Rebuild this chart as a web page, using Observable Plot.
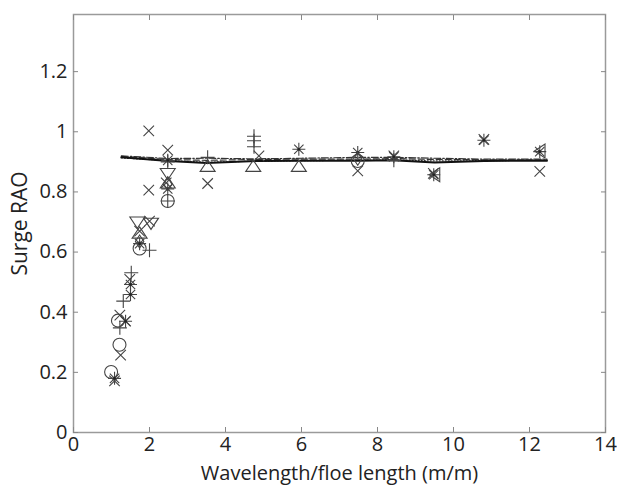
<!DOCTYPE html>
<html><head><meta charset="utf-8">
<script src="https://cdn.jsdelivr.net/npm/d3@7"></script>
<script src="https://cdn.jsdelivr.net/npm/@observablehq/plot@0.6"></script>
<style>body{margin:0;background:#fff} svg{display:block}</style>
</head><body><div id="chart"></div>
<script>
// ---- data ----
const xTicks = [0, 2, 4, 6, 8, 10, 12, 14];
const yTicks = [0, 0.2, 0.4, 0.6, 0.8, 1, 1.2];

const lineX   = [1.26, 2.5, 3.5, 4.8, 6, 7.5, 8.4, 9.5, 10.8, 12.46];
const solidY  = [0.915, 0.903, 0.896, 0.903, 0.904, 0.904, 0.905, 0.898, 0.903, 0.904];
const dashedY = [0.918, 0.908, 0.905, 0.908, 0.909, 0.909, 0.911, 0.908, 0.907, 0.907];
const dashDotY= [0.920, 0.911, 0.912, 0.910, 0.912, 0.915, 0.915, 0.912, 0.909, 0.909];
const dottedY = [0.913, 0.904, 0.899, 0.902, 0.904, 0.905, 0.907, 0.903, 0.904, 0.905];

const circleX = [0.99, 1.21, 1.17, 1.74, 2.48, 7.48];
const circleY = [0.201, 0.292, 0.372, 0.612, 0.77, 0.903];
const timesX  = [1.08, 1.24, 1.22, 1.37, 1.48, 1.74, 2.0, 1.98, 1.98, 2.48, 2.44, 3.53, 4.88, 7.48, 8.43, 9.47, 10.8, 12.27];
const timesY  = [0.172, 0.257, 0.39, 0.37, 0.509, 0.67, 0.703, 0.806, 1.003, 0.939, 0.83, 0.828, 0.92, 0.87, 0.92, 0.862, 0.975, 0.868];
const plusX   = [1.22, 1.31, 1.52, 2.0, 2.48, 2.48, 3.53, 4.75, 4.75, 4.75, 8.43];
const plusY   = [0.348, 0.437, 0.531, 0.606, 0.77, 0.9, 0.915, 0.985, 0.97, 0.95, 0.905];
const starX   = [1.08, 1.37, 1.5, 1.5, 1.74, 2.48, 2.48, 5.93, 7.48, 8.43, 9.48, 10.8, 12.27];
const starY   = [0.18, 0.37, 0.492, 0.459, 0.628, 0.81, 0.905, 0.942, 0.931, 0.917, 0.857, 0.972, 0.934];
const triUpX  = [1.74, 2.48, 3.53, 4.73, 5.93];
const triUpY  = [0.665, 0.832, 0.887, 0.887, 0.887];
const triDnX  = [1.68, 2.04, 2.48];
const triDnY  = [0.698, 0.694, 0.859];
const triLfX  = [9.5, 12.27];
const triLfY  = [0.857, 0.936];
const diamX   = [1.74, 2.48, 7.48];
const diamY   = [0.635, 0.826, 0.91];

// ---- helpers ----
const pts = (xs, ys) => xs.map((x, i) => ({x, y: ys[i]}));
const rad = s => Math.sqrt(s / Math.PI);
const symTimes = {draw(c, s){const a = rad(s)*0.75; c.moveTo(-a,-a); c.lineTo(a,a); c.moveTo(-a,a); c.lineTo(a,-a);}};
const symPlus  = {draw(c, s){const r = rad(s); c.moveTo(-r,0); c.lineTo(r,0); c.moveTo(0,-r); c.lineTo(0,r);}};
const symStar  = {draw(c, s){const r = rad(s), a = r*0.72; c.moveTo(-r,0); c.lineTo(r,0); c.moveTo(0,-r); c.lineTo(0,r);
                    c.moveTo(-a,-a); c.lineTo(a,a); c.moveTo(-a,a); c.lineTo(a,-a);}};
const symTriUp = {draw(c, s){const r = rad(s); c.moveTo(0,-r*0.75); c.lineTo(r,r*0.75); c.lineTo(-r,r*0.75); c.closePath();}};
const symTriDn = {draw(c, s){const r = rad(s); c.moveTo(0,r*0.75); c.lineTo(r,-r*0.75); c.lineTo(-r,-r*0.75); c.closePath();}};
const symTriLf = {draw(c, s){const r = rad(s); c.moveTo(-r*0.75,0); c.lineTo(r*0.75,-r); c.lineTo(r*0.75,r); c.closePath();}};
const symDiam  = {draw(c, s){const r = rad(s); c.moveTo(0,-r); c.lineTo(r*0.65,0); c.lineTo(0,r); c.lineTo(-r*0.65,0); c.closePath();}};

const mk = "#444";
const dotOpts = (sym, r) => ({x: "x", y: "y", symbol: sym, r, stroke: mk, fill: "none", strokeWidth: 1.1});

const chart = Plot.plot({
  width: 617, height: 485,
  marginLeft: 73, marginRight: 12, marginTop: 14, marginBottom: 53,
  style: {fontFamily: "'Open Sans', sans-serif", fontSize: "20px", color: "#222", background: "#fff"},
  x: {domain: [0, 14]},
  y: {domain: [0, 1.39]},
  marks: [
    Plot.frame({stroke: "#9a9a9a", strokeWidth: 1.5}),
    Plot.axisX(xTicks, {anchor: "bottom", tickSize: -5, stroke: "#888", tickFormat: () => "", label: null}),
    Plot.axisX(xTicks, {anchor: "top", tickSize: -5, stroke: "#888", tickFormat: () => "", label: null}),
    Plot.axisY(yTicks, {anchor: "left", tickSize: -5, stroke: "#888", tickFormat: () => "", label: null}),
    Plot.axisY(yTicks, {anchor: "right", tickSize: -5, stroke: "#888", tickFormat: () => "", label: null}),
    Plot.axisX(xTicks, {anchor: "bottom", tickSize: 0, tickPadding: 4, tickFormat: d => String(d), fill: "#222",
      fontSize: 20, label: null}),
    Plot.axisX(xTicks, {anchor: "bottom", tickSize: 0, tickFormat: () => "", fontSize: 20, fill: "#222",
      label: "Wavelength/floe length (m/m)", labelAnchor: "center", labelOffset: 47, labelArrow: "none"}),
    Plot.axisY(yTicks, {anchor: "left", tickSize: 0, tickPadding: 6, tickFormat: d => String(d), fill: "#222",
      fontSize: 20, label: null}),
    Plot.axisY(yTicks, {anchor: "left", tickSize: 0, tickFormat: () => "", fontSize: 21, fill: "#222",
      label: "Surge RAO", labelAnchor: "center", labelOffset: 61, labelArrow: "none"}),
    Plot.line(pts(lineX, dottedY), {x: "x", y: "y", stroke: "#333", strokeWidth: 1.2, strokeDasharray: "1,2"}),
    Plot.line(pts(lineX, dashDotY), {x: "x", y: "y", stroke: "#333", strokeWidth: 1.2, strokeDasharray: "7,2,1.5,2"}),
    Plot.line(pts(lineX, dashedY), {x: "x", y: "y", stroke: "#333", strokeWidth: 1.2, strokeDasharray: "6,3"}),
    Plot.line(pts(lineX, solidY), {x: "x", y: "y", stroke: "#111", strokeWidth: 2}),
    Plot.dot(pts(circleX, circleY), dotOpts("circle", 6.5)),
    Plot.dot(pts(timesX, timesY), dotOpts(symTimes, 7)),
    Plot.dot(pts(plusX, plusY), dotOpts(symPlus, 7)),
    Plot.dot(pts(starX, starY), dotOpts(symStar, 6.5)),
    Plot.dot(pts(starX, starY), {x: "x", y: "y", r: 1.3, fill: "#222"}),
    Plot.dot(pts(triUpX, triUpY), dotOpts(symTriUp, 7.5)),
    Plot.dot(pts(triDnX, triDnY), dotOpts(symTriDn, 7.5)),
    Plot.dot(pts(triLfX, triLfY), dotOpts(symTriLf, 7)),
    Plot.dot(pts(diamX, diamY), dotOpts(symDiam, 6.5))
  ]
});
document.getElementById("chart").append(chart);
</script>
</body></html>
